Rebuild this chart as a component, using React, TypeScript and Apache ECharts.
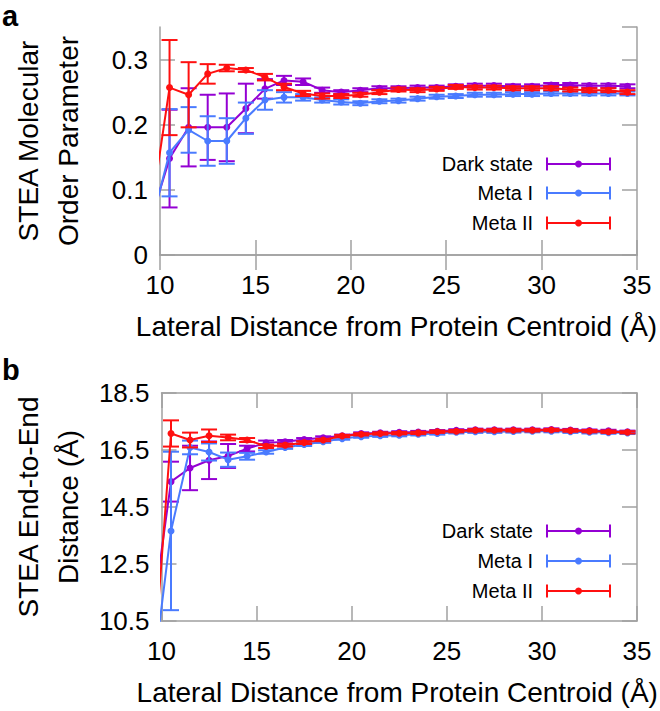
import React, { useEffect, useRef } from "react";
import * as echarts from "echarts";

// Lateral distance bins (Å)
const X = [9.5, 10.5, 11.5, 12.5, 13.5, 14.5, 15.5, 16.5, 17.5, 18.5, 19.5, 20.5, 21.5, 22.5, 23.5, 24.5, 25.5, 26.5, 27.5, 28.5, 29.5, 30.5, 31.5, 32.5, 33.5, 34.5];

// Panel a: order parameter
const orderDark = [0.052, 0.148, 0.196, 0.196, 0.196, 0.225, 0.255, 0.268, 0.266, 0.253, 0.250, 0.253, 0.256, 0.256, 0.257, 0.257, 0.259, 0.260, 0.260, 0.259, 0.259, 0.261, 0.261, 0.260, 0.260, 0.259];
const orderDarkErr = [null, 0.075, 0.06, 0.05, 0.052, 0.038, 0.015, 0.007, 0.005, 0.004, 0.003, 0.003, 0.003, 0.003, 0.003, 0.003, 0.003, 0.003, 0.003, 0.003, 0.003, 0.003, 0.003, 0.003, 0.003, 0.003];
const orderMeta1 = [0.043, 0.157, 0.192, 0.175, 0.175, 0.210, 0.238, 0.242, 0.242, 0.238, 0.235, 0.233, 0.236, 0.237, 0.240, 0.243, 0.244, 0.246, 0.246, 0.247, 0.247, 0.248, 0.248, 0.248, 0.248, 0.248];
const orderMeta1Err = [null, 0.067, 0.035, 0.038, 0.035, 0.024, 0.015, 0.008, 0.005, 0.004, 0.004, 0.003, 0.003, 0.003, 0.003, 0.003, 0.003, 0.003, 0.003, 0.003, 0.003, 0.003, 0.003, 0.003, 0.003, 0.003];
const orderMeta2 = [0.059, 0.257, 0.246, 0.278, 0.287, 0.284, 0.273, 0.258, 0.248, 0.244, 0.244, 0.246, 0.250, 0.254, 0.253, 0.255, 0.258, 0.257, 0.257, 0.256, 0.256, 0.256, 0.254, 0.253, 0.253, 0.250];
const orderMeta2Err = [null, 0.073, 0.05, 0.015, 0.005, 0.003, 0.005, 0.005, 0.004, 0.004, 0.003, 0.003, 0.003, 0.003, 0.003, 0.003, 0.003, 0.003, 0.003, 0.003, 0.003, 0.003, 0.003, 0.003, 0.003, 0.003];

// Panel b: end-to-end distance (Å)
const distDark = [10.5, 15.39, 15.87, 16.14, 16.29, 16.55, 16.75, 16.79, 16.87, 16.93, 17.0, 17.08, 17.1, 17.12, 17.13, 17.16, 17.19, 17.21, 17.21, 17.21, 17.21, 17.22, 17.2, 17.18, 17.17, 17.14];
const distDarkErr = [null, 0.7, 0.78, 0.66, 0.42, 0.1, 0.08, 0.06, 0.05, 0.05, 0.04, 0.04, 0.04, 0.04, 0.04, 0.04, 0.04, 0.04, 0.04, 0.04, 0.04, 0.04, 0.04, 0.04, 0.04, 0.04];
const distMeta1 = [8.28, 13.66, 16.59, 16.43, 16.16, 16.28, 16.43, 16.59, 16.69, 16.79, 16.9, 16.97, 17.0, 17.02, 17.05, 17.08, 17.12, 17.14, 17.14, 17.15, 17.16, 17.16, 17.14, 17.12, 17.11, 17.1];
const distMeta1Err = [null, 2.78, 0.24, 0.3, 0.25, 0.12, 0.06, 0.05, 0.05, 0.04, 0.04, 0.04, 0.04, 0.04, 0.04, 0.04, 0.04, 0.04, 0.04, 0.04, 0.04, 0.04, 0.04, 0.04, 0.04, 0.04];
const distMeta2 = [8.1, 17.08, 16.85, 17.0, 16.94, 16.85, 16.63, 16.67, 16.76, 16.85, 16.99, 17.05, 17.08, 17.09, 17.1, 17.14, 17.16, 17.19, 17.19, 17.19, 17.19, 17.2, 17.18, 17.16, 17.14, 17.12];
const distMeta2Err = [null, 0.46, 0.26, 0.22, 0.1, 0.07, 0.06, 0.05, 0.05, 0.04, 0.04, 0.04, 0.04, 0.04, 0.04, 0.04, 0.04, 0.04, 0.04, 0.04, 0.04, 0.04, 0.04, 0.04, 0.04, 0.04];

const seriesNames = ["Dark state", "Meta I", "Meta II"];
const seriesColors = ["#9400d3", "#4a7bff", "#ff1010"];
const xTicks = { min: 10, max: 35, interval: 5 };
const orderTicks = { min: 0, max: 0.35, interval: 0.1 };
const distTicks = { min: 10.5, max: 18.5, interval: 2 };

const FONT = "'Liberation Sans', Arial, Helvetica, sans-serif";
const AX = "#a0a0a0";
const TICK_FS = 26;
const NAME_FS = 28;

function lineSeries(name: string, color: string, ys: number[], p: number, z: number) {
  return {
    type: "line",
    name,
    xAxisIndex: 2 * p,
    yAxisIndex: 2 * p,
    data: X.map((x, i) => [x, ys[i]]),
    symbol: "circle",
    symbolSize: 7,
    showAllSymbol: true,
    clip: true,
    lineStyle: { color, width: 2 },
    itemStyle: { color },
    z,
  };
}

function errSeries(name: string, color: string, ys: number[], es: (number | null)[], p: number, z: number) {
  const data: number[][] = [];
  X.forEach((x, i) => {
    const e = es[i];
    if (e != null) data.push([x, ys[i], e]);
  });
  return {
    type: "custom",
    name: name + " err",
    xAxisIndex: 2 * p,
    yAxisIndex: 2 * p,
    silent: true,
    clip: true,
    z,
    data,
    encode: { x: 0, y: 1 },
    renderItem: (_params: any, api: any) => {
      const x = api.value(0);
      const y = api.value(1);
      const e = api.value(2);
      const t = api.coord([x, y + e]);
      const b = api.coord([x, y - e]);
      const hw = 8;
      const st = { stroke: color, lineWidth: 2 };
      return {
        type: "group",
        children: [
          { type: "line", shape: { x1: t[0], y1: t[1], x2: b[0], y2: b[1] }, style: st },
          { type: "line", shape: { x1: t[0] - hw, y1: t[1], x2: t[0] + hw, y2: t[1] }, style: st },
          { type: "line", shape: { x1: b[0] - hw, y1: b[1], x2: b[0] + hw, y2: b[1] }, style: st },
        ],
      };
    },
  };
}

function legendGraphics(rows: number[]) {
  const out: any[] = [];
  rows.forEach((y, i) => {
    const c = seriesColors[i];
    const st = { stroke: c, lineWidth: 2 };
    out.push({
      type: "text",
      x: 533,
      y,
      style: { text: seriesNames[i], font: `20px ${FONT}`, fill: "#000", align: "right", verticalAlign: "middle" },
    });
    out.push({ type: "line", shape: { x1: 547, y1: y, x2: 610, y2: y }, style: st });
    out.push({ type: "line", shape: { x1: 547, y1: y - 6.5, x2: 547, y2: y + 6.5 }, style: st });
    out.push({ type: "line", shape: { x1: 610, y1: y - 6.5, x2: 610, y2: y + 6.5 }, style: st });
    out.push({ type: "circle", shape: { cx: 578.5, cy: y, r: 3.5 }, style: { fill: c } });
  });
  return out;
}

function xAxes(gridIndex: number) {
  const common = {
    type: "value",
    gridIndex,
    ...xTicks,
    splitLine: { show: false },
    axisLine: { show: true, lineStyle: { color: AX, width: 1.5 } },
    axisTick: { show: true, inside: true, length: 15, lineStyle: { color: AX, width: 1.5 } },
  };
  return [
    {
      ...common,
      position: "bottom",
      name: "Lateral Distance from Protein Centroid (Å)",
      nameLocation: "middle",
      nameGap: 57,
      nameTextStyle: { fontSize: NAME_FS, fontFamily: FONT, color: "#000", padding: [0, 4, 0, 0] },
      axisLabel: { fontSize: TICK_FS, fontFamily: FONT, color: "#000", margin: 17 },
    },
    { ...common, position: "top", axisLabel: { show: false } },
  ];
}

function yAxes(gridIndex: number, ticks: any, name: string, fmt: (v: number) => string, showMax: boolean) {
  const common = {
    type: "value",
    gridIndex,
    ...ticks,
    splitLine: { show: false },
    axisLine: { show: true, lineStyle: { color: AX, width: 1.5 } },
    axisTick: { show: true, inside: true, length: 15, lineStyle: { color: AX, width: 1.5 } },
  };
  return [
    {
      ...common,
      position: "left",
      name,
      nameLocation: "middle",
      nameRotate: 90,
      nameGap: 72,
      nameTextStyle: { fontSize: NAME_FS, fontFamily: FONT, color: "#000", lineHeight: 40 },
      axisLabel: { fontSize: TICK_FS, fontFamily: FONT, color: "#000", margin: 12, showMaxLabel: showMax, formatter: fmt },
    },
    { ...common, position: "right", axisLabel: { show: false } },
  ];
}

export default function App() {
  const ref = useRef<HTMLDivElement>(null);
  useEffect(() => {
    document.body.style.margin = "0";
    document.body.style.overflow = "hidden";
    const chart = echarts.init(ref.current!, null, { renderer: "svg" });
    const orderSets = [
      [orderDark, orderDarkErr],
      [orderMeta1, orderMeta1Err],
      [orderMeta2, orderMeta2Err],
    ];
    const distSets = [
      [distDark, distDarkErr],
      [distMeta1, distMeta1Err],
      [distMeta2, distMeta2Err],
    ];
    const series: any[] = [];
    [orderSets, distSets].forEach((sets, p) => {
      sets.forEach((s, i) => {
        series.push(errSeries(seriesNames[i], seriesColors[i], s[0] as number[], s[1] as (number | null)[], p, 2 + i));
        series.push(lineSeries(seriesNames[i], seriesColors[i], s[0] as number[], p, 2 + i));
      });
    });
    const option: any = {
      animation: false,
      backgroundColor: "#fff",
      grid: [
        { left: 154, right: 23, top: 27, height: 228 },
        { left: 154, right: 23, top: 393, height: 228 },
      ],
      xAxis: [...xAxes(0), ...xAxes(1)],
      yAxis: [
        ...yAxes(0, orderTicks, "STEA Molecular\nOrder Parameter", (v: number) => (v === 0 ? "0" : v.toFixed(1)), false),
        ...yAxes(1, distTicks, "STEA End-to-End\nDistance (Å)", (v: number) => v.toFixed(1), true),
      ],
      series,
      graphic: [
        { type: "text", x: 2, y: 1.5, style: { text: "a", font: `bold 29px ${FONT}`, fill: "#000" } },
        { type: "text", x: 2, y: 355.5, style: { text: "b", font: `bold 29px ${FONT}`, fill: "#000" } },
        ...legendGraphics([164, 193, 223]),
        ...legendGraphics([531, 561, 591]),
      ],
    };
    chart.setOption(option);
    return () => chart.dispose();
  }, []);
  return <div ref={ref} style={{ width: 660, height: 711 }} />;
}
